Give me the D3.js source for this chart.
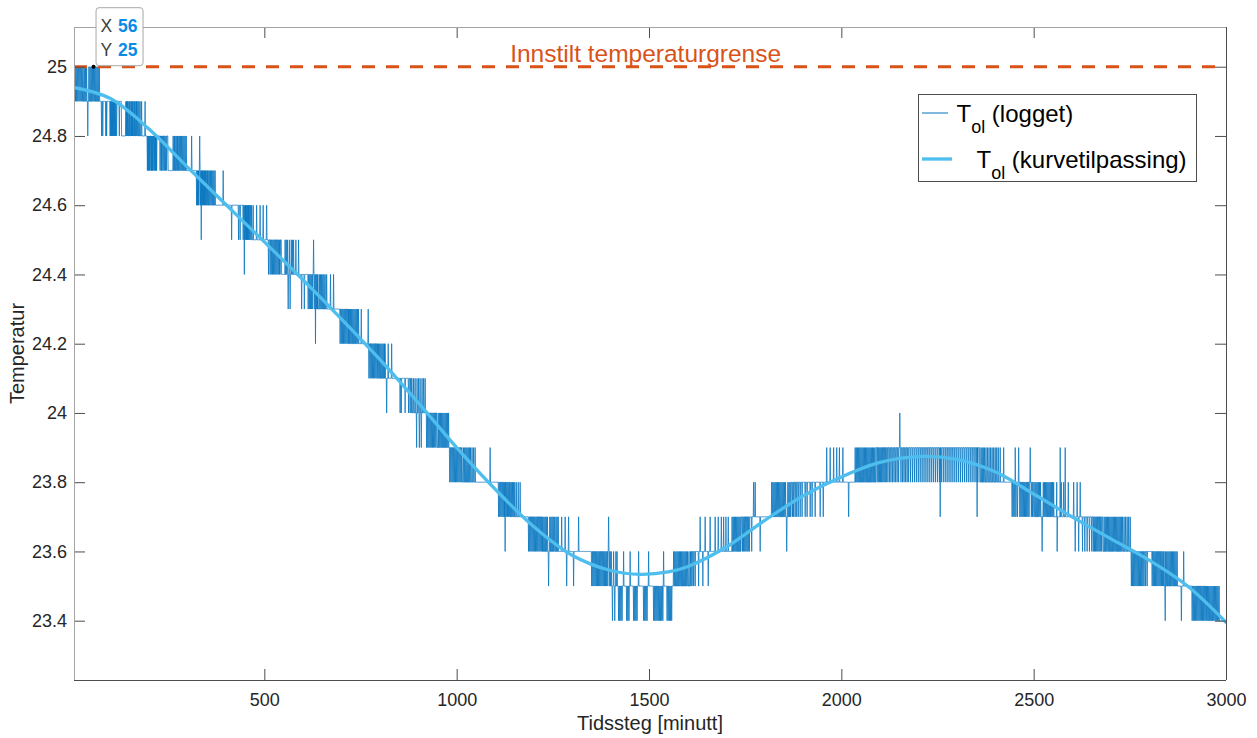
<!DOCTYPE html>
<html>
<head>
<meta charset="utf-8">
<script src="https://cdn.jsdelivr.net/npm/d3@7"></script>
<style>
  html, body { margin: 0; padding: 0; background: #ffffff; }
  svg text { font-family: "Liberation Sans", Arial, Helvetica, sans-serif; }
</style>
</head>
<body>
<svg id="chart" width="1257" height="738"></svg>
<script>
// ---- axis limits and ticks ----
const xLimits = [5.2, 3000];
const yLimits = [23.2287, 25.1147];
const xTicks = [500, 1000, 1500, 2000, 2500, 3000];
const yTicks = [23.4, 23.6, 23.8, 24, 24.2, 24.4, 24.6, 24.8, 25];

// ---- set temperature limit ----
const limitValue = 25.0;
const limitLabel = "Innstilt temperaturgrense";
const limitLabelT = 1139;

// ---- logged T_ol (0.1 degree resolution), run-length form ----
// level the sensor sits at, starting from the given minute
const logBaseSteps = [
  [1, 25.0], [30, 24.9], [130, 24.8], [250, 24.7], [350, 24.6], [460, 24.5],
  [545, 24.4], [640, 24.3], [720, 24.2], [795, 24.1], [885, 24.0], [950, 23.9],
  [1015, 23.8], [1140, 23.7], [1225, 23.6], [1400, 23.5], [1610, 23.6],
  [1740, 23.7], [1870, 23.8], [2090, 23.9], [2360, 23.8], [2500, 23.7],
  [2680, 23.6], [2840, 23.5], [2950, 23.4]
];
// single minutes one step (0.1) above the current level
const logFlickUp = [
  32, 35, 38, 44, 47, 50, 53, 56, 59, 62, 65, 68, 71,
  140, 142, 144, 146, 149, 151, 154, 156, 158, 161, 163, 166, 168, 171, 174, 177, 181, 190,
  263, 266, 268, 271, 274, 276, 279, 282, 285, 288, 291, 294, 297, 311,
  352, 354, 357, 360, 363, 366, 369, 372, 393,
  461, 464, 467, 471, 480, 489, 497, 506,
  554, 557, 560, 565, 570, 573, 576, 582, 589,
  643, 646, 649, 652, 655, 658, 662, 672, 680,
  721, 724, 727, 730, 733, 736, 739, 742, 745, 752, 770,
  797, 800, 803, 806, 809, 812, 814, 822, 831,
  888, 892, 897, 901, 905, 910, 914, 918,
  952, 955, 958, 961, 964, 967, 970, 973, 976, 979,
  1018, 1021, 1024, 1027, 1030, 1033, 1036, 1040, 1044, 1048, 1087,
  1142, 1145, 1148, 1151, 1155, 1160, 1165,
  1227, 1230, 1233, 1236, 1242, 1245, 1248, 1251, 1254, 1258, 1261, 1264, 1273, 1282, 1291, 1317,
  1402, 1408, 1414, 1417, 1434, 1451, 1473, 1499, 1538,
  1564, 1567, 1570, 1573, 1576, 1579, 1582, 1585, 1588, 1591, 1594, 1597, 1600, 1604, 1608,
  1633, 1646, 1659, 1672, 1680, 1688, 1694, 1700, 1706, 1716, 1719, 1722, 1725, 1728, 1731, 1734, 1737,
  1772, 1819, 1822, 1825, 1828, 1831, 1834, 1837, 1840, 1843, 1846, 1849, 1852, 1855, 1861, 1864, 1867,
  1962, 1971, 1980, 1988, 1995, 2004, 2036, 2039, 2042, 2045, 2048, 2051, 2054, 2057, 2060,
  2063, 2066, 2069, 2072, 2075, 2078, 2081, 2084, 2087,
  2363, 2366, 2369, 2372, 2376, 2380, 2384, 2388, 2392, 2396, 2400, 2404, 2408, 2413, 2422, 2452, 2461, 2491,
  2503, 2506, 2509, 2512, 2515, 2518, 2525, 2528, 2531, 2534, 2537, 2540, 2543, 2546, 2549, 2552,
  2560, 2572, 2578, 2590, 2604, 2613, 2621,
  2683, 2686, 2689, 2692, 2695, 2698, 2701, 2704, 2707, 2710, 2713, 2716, 2719, 2722, 2725, 2728,
  2731, 2735, 2739, 2743, 2747, 2751,
  2843, 2846, 2849, 2852, 2855, 2858, 2861, 2864, 2867, 2870, 2873, 2890,
  2952, 2955, 2958, 2961, 2964, 2967, 2970, 2973, 2976, 2979, 2982
];
// single minutes one step (0.1) below the current level
const logFlickDown = [
  6, 9, 12, 15, 18, 21, 24, 27,
  77, 80, 88, 90, 99, 101, 103, 105, 107, 109, 111, 113, 116, 123, 129,
  196, 198, 200, 202, 205, 207, 209, 211, 214, 216, 218, 220, 229, 232, 234, 237, 240, 243, 246,
  324, 326, 328, 330, 334, 338, 340, 342, 344, 346, 348,
  415, 433, 437, 445, 450, 452, 454, 456, 458,
  511, 515, 518, 521, 524, 527, 530, 533, 536, 539, 541,
  597, 604, 614, 617, 620, 623, 626, 631, 636, 638,
  697, 700, 703, 706, 709, 712, 715, 718,
  772, 775, 778, 781, 784, 787, 790, 793,
  853, 856, 866, 875, 879, 882,
  903, 908, 922, 925, 928, 931, 934, 937, 940, 943, 946, 949,
  982, 985, 988, 991, 994, 997, 1000, 1003, 1006, 1009, 1012,
  1109, 1112, 1115, 1118, 1121, 1124, 1129, 1132, 1135, 1138,
  1187, 1190, 1193, 1196, 1199, 1202, 1205, 1208, 1211, 1214, 1217, 1220, 1223,
  1351, 1354, 1357, 1360, 1363, 1366, 1369, 1372, 1375, 1378, 1381, 1384, 1387, 1390, 1393, 1398,
  1405, 1411, 1421, 1424, 1427, 1430, 1442, 1445, 1448, 1460, 1463, 1466, 1469,
  1486, 1489, 1492, 1495, 1512, 1515, 1518, 1521, 1524, 1527, 1530, 1533, 1536,
  1547, 1550, 1553, 1556, 1559,
  1612, 1616, 1620, 1629, 1640, 1654,
  1743, 1746, 1749, 1752, 1755, 1758, 1761, 1767, 1789, 1858,
  1873, 1876, 1880, 1884, 1888, 1893, 1898, 1906, 1911, 1919, 1924, 1932, 1945, 1953, 2019,
  2093, 2096, 2099, 2102, 2105, 2108, 2111, 2114, 2117, 2121, 2125, 2129, 2133, 2137, 2141, 2145,
  2149, 2155, 2159, 2163, 2167, 2171, 2175, 2180, 2185, 2190, 2195, 2200, 2205, 2210, 2215, 2220,
  2225, 2230, 2235, 2240, 2245, 2250, 2255, 2260, 2265, 2270, 2275, 2280, 2285, 2290, 2295, 2300,
  2305, 2310, 2315, 2320, 2325, 2330, 2335, 2340, 2345, 2350, 2355,
  2444, 2447, 2451, 2454, 2458, 2464, 2467, 2470, 2473, 2476, 2479, 2482, 2485, 2488, 2494, 2497,
  2608, 2617, 2627, 2633, 2639, 2645, 2651, 2655, 2658, 2661, 2664, 2667, 2670, 2673, 2676,
  2754, 2757, 2760, 2763, 2766, 2769, 2772, 2775, 2778, 2781, 2784, 2787, 2791, 2795,
  2808, 2811, 2814, 2817, 2820, 2823, 2826, 2829, 2832, 2835, 2838,
  2912, 2915, 2918, 2921, 2924, 2927, 2930, 2933, 2936, 2939, 2942, 2945, 2948
];
// larger single-minute excursions [minute, value]
const logOutliers = [
  [41, 24.8], [332, 24.8], [336, 24.5], [448, 24.4], [562, 24.3], [567, 24.3],
  [628, 24.5], [633, 24.2], [818, 24.0], [896, 23.9], [1126, 23.6], [1239, 23.5],
  [1286, 23.5], [1304, 23.5], [1395, 23.7], [1776, 23.8], [2152, 24.0], [2257, 23.7],
  [2353, 23.7], [2522, 23.6], [2561, 23.6], [2569, 23.9], [2582, 23.9], [2842, 23.4],
  [2884, 23.4]
];
const logLastMinute = 3000;

// ---- fitted curve for T_ol ----
const fitT = [5, 100, 200, 300, 400, 500, 600, 700, 800, 900, 1000, 1100, 1200, 1300, 1400,
  1477, 1550, 1600, 1700, 1800, 1900, 2000, 2100, 2200, 2300, 2400, 2500, 2600, 2700, 2800,
  2900, 3000];
const fitV = [24.940, 24.908, 24.820, 24.710, 24.602, 24.494, 24.385, 24.272, 24.155, 24.030,
  23.900, 23.780, 23.672, 23.589, 23.545, 23.534, 23.541, 23.556, 23.612, 23.689, 23.760,
  23.815, 23.857, 23.874, 23.866, 23.830, 23.766, 23.700, 23.637, 23.575, 23.500, 23.395];

// ---- data tip ----
const tipT = 56;
const tipV = 25;

// ---- legend / labels ----
const xTitle = "Tidssteg [minutt]";
const yTitle = "Temperatur";
const legendEntries = ["(logget)", "(kurvetilpassing)"];

// ---- colours ----
const cLog = "#0072BD";
const cFit = "#4DBEEE";
const cLimit = "#D95319";
const cText = "#262626";

// ---------------------------------------------------------------
const svg = d3.select("#chart");
const plot = { left: 74, right: 1226, top: 27, bottom: 680 };

const x = d3.scaleLinear().domain(xLimits).range([plot.left, plot.right]);
const y = d3.scaleLinear().domain(yLimits).range([plot.bottom, plot.top]);

// decode the logged series minute by minute
const upSet = new Set(logFlickUp);
const downSet = new Set(logFlickDown);
const outMap = new Map(logOutliers);
const logged = [];
let si = 0;
for (let t = 1; t <= logLastMinute; t++) {
  while (si + 1 < logBaseSteps.length && logBaseSteps[si + 1][0] <= t) si++;
  let v = logBaseSteps[si][1];
  if (upSet.has(t)) v += 0.1;
  if (downSet.has(t)) v -= 0.1;
  if (outMap.has(t)) v = outMap.get(t);
  logged.push([t, Math.round(v * 10) / 10]);
}

svg.append("defs").append("clipPath").attr("id", "plotClip")
  .append("rect")
  .attr("x", plot.left).attr("y", plot.top)
  .attr("width", plot.right - plot.left).attr("height", plot.bottom - plot.top);

const dataG = svg.append("g").attr("clip-path", "url(#plotClip)");

// logged series
dataG.append("path")
  .datum(logged)
  .attr("fill", "none")
  .attr("stroke", cLog)
  .attr("stroke-width", 0.75)
  .attr("d", d3.line().x(d => x(d[0])).y(d => y(d[1])));

// fitted curve
dataG.append("path")
  .datum(fitT.map((t, i) => [t, fitV[i]]))
  .attr("fill", "none")
  .attr("stroke", cFit)
  .attr("stroke-width", 3.3)
  .attr("stroke-linecap", "round")
  .attr("d", d3.line().curve(d3.curveCatmullRom.alpha(0.5)).x(d => x(d[0])).y(d => y(d[1])));

// temperature limit
dataG.append("line")
  .attr("x1", x(xLimits[0])).attr("x2", x(xLimits[1]))
  .attr("y1", y(limitValue)).attr("y2", y(limitValue))
  .attr("stroke", cLimit)
  .attr("stroke-width", 3)
  .attr("stroke-dasharray", "13,11");

svg.append("text")
  .attr("x", x(limitLabelT))
  .attr("y", y(limitValue) - 5)
  .attr("fill", cLimit)
  .attr("font-size", "24.5px")
  .text(limitLabel);

// ---- axes ----
const tickLen = 11;
const axB = d3.axisBottom(x).tickValues(xTicks).tickSizeInner(-tickLen).tickSizeOuter(0).tickPadding(13)
  .tickFormat(d3.format("d"));
const axT = d3.axisTop(x).tickValues(xTicks).tickSizeInner(-tickLen).tickSizeOuter(0).tickFormat("");
const axL = d3.axisLeft(y).tickValues(yTicks).tickSizeInner(-tickLen).tickSizeOuter(0).tickPadding(7)
  .tickFormat(d => d3.format("")(+d.toFixed(1)));
const axR = d3.axisRight(y).tickValues(yTicks).tickSizeInner(-tickLen).tickSizeOuter(0).tickFormat("");

function styleAxis(g) {
  g.select(".domain").remove();
  g.selectAll(".tick line").attr("stroke", "#4d4d4d").attr("stroke-width", 1);
  g.selectAll(".tick text").attr("fill", cText).attr("font-size", "18px")
    .attr("font-family", '"Liberation Sans", Arial, sans-serif');
}
svg.append("g").attr("transform", `translate(0,${plot.bottom})`).call(axB).call(styleAxis);
svg.append("g").attr("transform", `translate(0,${plot.top})`).call(axT).call(styleAxis);
svg.append("g").attr("transform", `translate(${plot.left},0)`).call(axL).call(styleAxis);
svg.append("g").attr("transform", `translate(${plot.right},0)`).call(axR).call(styleAxis);

// axis box
const frame = svg.append("g").attr("fill", "none").attr("shape-rendering", "crispEdges");
frame.append("line").attr("x1", plot.left).attr("x2", plot.right).attr("y1", plot.top + 0.5).attr("y2", plot.top + 0.5)
  .attr("stroke", "#a3a3a3");
frame.append("line").attr("x1", plot.left + 0.5).attr("x2", plot.left + 0.5).attr("y1", plot.top).attr("y2", plot.bottom)
  .attr("stroke", "#a3a3a3").attr("stroke-width", 1.2);
frame.append("line").attr("x1", plot.left).attr("x2", plot.right).attr("y1", plot.bottom + 0.5).attr("y2", plot.bottom + 0.5)
  .attr("stroke", "#4d4d4d").attr("stroke-width", 1.2);
frame.append("line").attr("x1", plot.right + 0.5).attr("x2", plot.right + 0.5).attr("y1", plot.top).attr("y2", plot.bottom)
  .attr("stroke", "#4d4d4d");

// axis titles
svg.append("text")
  .attr("x", (plot.left + plot.right) / 2).attr("y", 730)
  .attr("text-anchor", "middle").attr("fill", cText).attr("font-size", "20px")
  .text(xTitle);
svg.append("text")
  .attr("transform", `translate(24,${(plot.top + plot.bottom) / 2}) rotate(-90)`)
  .attr("text-anchor", "middle").attr("fill", cText).attr("font-size", "20px")
  .text(yTitle);

// ---- legend ----
const lg = svg.append("g");
lg.append("rect")
  .attr("x", 918.5).attr("y", 94.5).attr("width", 278).attr("height", 87)
  .attr("fill", "#ffffff").attr("stroke", "#4d4d4d").attr("stroke-width", 1);
lg.append("line").attr("x1", 922).attr("x2", 948).attr("y1", 113).attr("y2", 113)
  .attr("stroke", cLog).attr("stroke-width", 1);
lg.append("line").attr("x1", 922).attr("x2", 952).attr("y1", 159).attr("y2", 159)
  .attr("stroke", cFit).attr("stroke-width", 3.3);

function legendLabel(xPos, yBase, rest) {
  const t = lg.append("text").attr("x", xPos).attr("y", yBase).attr("fill", "#000").attr("font-size", "24px");
  t.append("tspan").text("T");
  t.append("tspan").attr("font-size", "18px").attr("dy", 11).text("ol");
  t.append("tspan").attr("dy", -11).text(" " + rest);
}
legendLabel(956.5, 121.5, legendEntries[0]);
legendLabel(976.5, 167.5, legendEntries[1]);

// ---- data tip ----
const px = x(tipT), py = y(tipV);
const tip = svg.append("g");
tip.append("rect")
  .attr("x", px + 2.5).attr("y", py - 59).attr("width", 47).attr("height", 58)
  .attr("rx", 3).attr("fill", "#ffffff").attr("fill-opacity", 0.95)
  .attr("stroke", "#a8a8a8").attr("stroke-width", 1);
const tipRows = [["X", tipT], ["Y", tipV]];
tipRows.forEach((r, i) => {
  const tt = tip.append("text").attr("x", px + 7).attr("y", py - 34.5 + i * 23.7).attr("font-size", "17.5px");
  tt.append("tspan").attr("fill", "#404040").text(r[0]);
  tt.append("tspan").attr("x", px + 24.5).attr("fill", "#0A8CE6").attr("font-weight", "bold").text(r[1]);
});
tip.append("circle").attr("cx", px).attr("cy", py).attr("r", 2).attr("fill", "#000");
</script>
</body>
</html>
